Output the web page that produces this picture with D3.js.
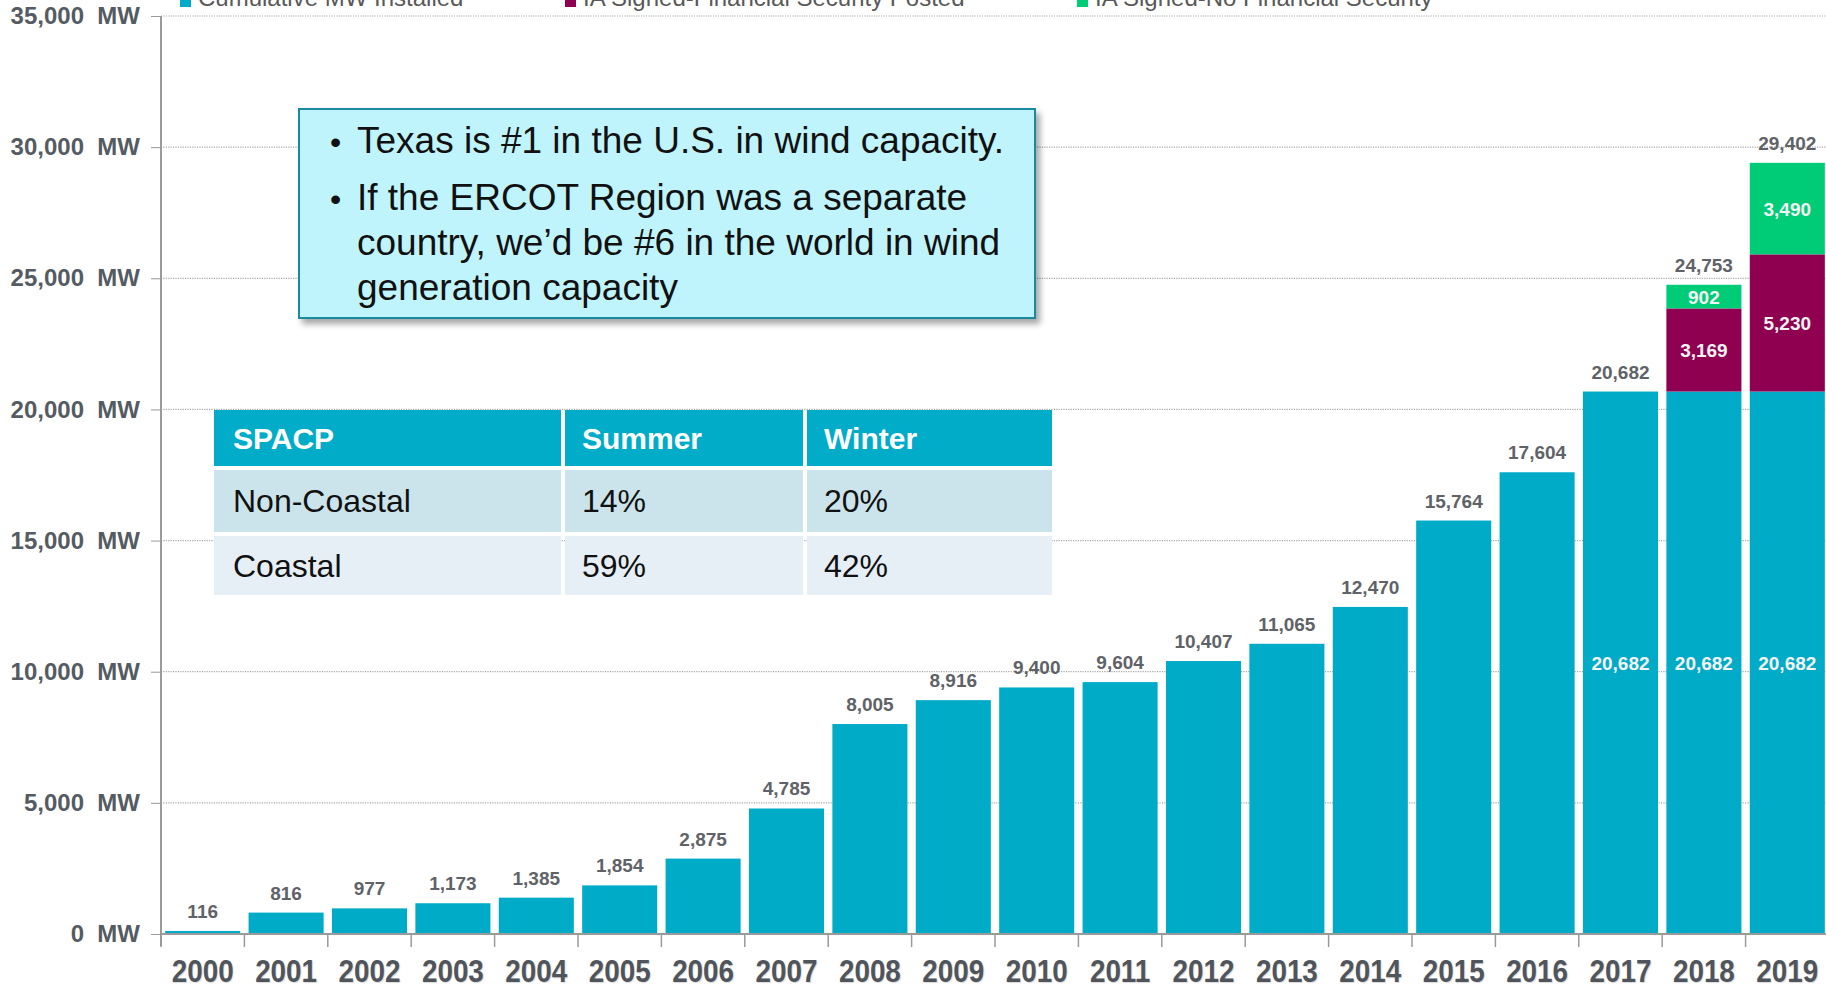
<!DOCTYPE html>
<html>
<head>
<meta charset="utf-8">
<script src="https://cdn.jsdelivr.net/npm/d3@7"></script>
<style>
  body { margin: 0; background: #fff; }
  svg { display: block; font-family: "Liberation Sans", Arial, sans-serif; }
</style>
</head>
<body>
<script>
// Chart data
const years = ["2000","2001","2002","2003","2004","2005","2006","2007","2008","2009",
               "2010","2011","2012","2013","2014","2015","2016","2017","2018","2019"];
const installed = [116, 816, 977, 1173, 1385, 1854, 2875, 4785, 8005, 8916,
                   9400, 9604, 10407, 11065, 12470, 15764, 17604, 20682, 20682, 20682];
const securityPosted = [0,0,0,0,0,0,0,0,0,0,0,0,0,0,0,0,0,0, 3169, 5230];
const noSecurity = [0,0,0,0,0,0,0,0,0,0,0,0,0,0,0,0,0,0, 902, 3490];
const insideLabelYears = ["2017", "2018", "2019"];
const yTicks = [0, 5000, 10000, 15000, 20000, 25000, 30000, 35000];

const seriesKeys = ["installed", "posted", "noSecurity"];
const seriesColors = ["#00abc8", "#8f0050", "#00cc78"];
const legendLabels = ["Cumulative MW Installed", "IA Signed-Financial Security Posted", "IA Signed-No Financial Security"];

const calloutBullets = [
  ["Texas is #1 in the U.S. in wind capacity."],
  ["If the ERCOT Region was a separate", "country, we\u2019d be #6 in the world in wind", "generation capacity"]
];
const tableHeader = ["SPACP", "Summer", "Winter"];
const tableRows = [
  ["Non-Coastal", "14%", "20%"],
  ["Coastal", "59%", "42%"]
];

// Build table for stacking
const rows = years.map((yr, i) => ({
  yr: yr,
  installed: installed[i],
  posted: securityPosted[i],
  noSecurity: noSecurity[i]
}));

const W = 1826, H = 988;
const svg = d3.select("body").append("svg")
  .attr("width", W)
  .attr("height", H);

const defs = svg.append("defs");
const shadow = defs.append("filter").attr("id", "shadow")
  .attr("x", "-5%").attr("y", "-5%").attr("width", "115%").attr("height", "125%");
shadow.append("feDropShadow")
  .attr("dx", 4).attr("dy", 5).attr("stdDeviation", 3)
  .attr("flood-color", "#000").attr("flood-opacity", 0.35);

// Scales
const x = d3.scaleBand()
  .domain(years)
  .range([161, 1829])
  .paddingInner(0.1)
  .paddingOuter(0.05);

const y = d3.scaleLinear()
  .domain([0, 35000])
  .range([934, 16]);

const color = d3.scaleOrdinal().domain(seriesKeys).range(seriesColors);

// Gridlines (dotted)
svg.append("g")
  .selectAll("line")
  .data(yTicks.filter(d => d > 0))
  .enter().append("line")
  .attr("x1", 161).attr("x2", W)
  .attr("y1", d => y(d)).attr("y2", d => y(d))
  .attr("stroke", "#a9a9a9")
  .attr("stroke-width", 1.2)
  .attr("stroke-dasharray", "1.2,1.2");

// Y axis
const yAxis = svg.append("g")
  .attr("transform", "translate(161,0)")
  .call(d3.axisLeft(y).tickValues(yTicks).tickSize(10).tickPadding(11)
    .tickFormat(d => d3.format(",")(d) + "  MW"));
yAxis.select(".domain").remove();
yAxis.selectAll(".tick line").attr("stroke", "#999");
yAxis.selectAll(".tick text")
  .style("white-space", "pre")
  .attr("fill", "#555b62")
  .attr("font-size", 24)
  .attr("font-weight", "bold")
  .attr("font-family", "'Liberation Sans', Arial, sans-serif");

svg.append("line")
  .attr("x1", 161).attr("x2", 161)
  .attr("y1", y(35000)).attr("y2", 946)
  .attr("stroke", "#9a9a9a").attr("stroke-width", 2);

// Stacked bars
const stacked = d3.stack().keys(seriesKeys)(rows);

svg.append("g")
  .selectAll("g")
  .data(stacked)
  .enter().append("g")
  .attr("fill", d => color(d.key))
  .selectAll("rect")
  .data(d => d.filter(s => s[1] - s[0] > 0))
  .enter().append("rect")
  .attr("x", d => x(d.data.yr))
  .attr("width", x.bandwidth())
  .attr("y", d => y(d[1]))
  .attr("height", d => y(d[0]) - y(d[1]));

// Baseline and x ticks at band boundaries
svg.append("line")
  .attr("x1", 161).attr("x2", W)
  .attr("y1", y(0)).attr("y2", y(0))
  .attr("stroke", "#9a9a9a").attr("stroke-width", 2);

svg.append("g")
  .selectAll("line")
  .data(years)
  .enter().append("line")
  .attr("x1", d => x(d) - x.step() * x.paddingInner() / 2)
  .attr("x2", d => x(d) - x.step() * x.paddingInner() / 2)
  .attr("y1", y(0)).attr("y2", y(0) + 13)
  .attr("stroke", "#9a9a9a").attr("stroke-width", 1.5);

// Year labels (condensed)
svg.append("g")
  .selectAll("text")
  .data(years)
  .enter().append("text")
  .attr("transform", d => `translate(${x(d) + x.bandwidth() / 2},982) scale(0.87,1)`)
  .attr("text-anchor", "middle")
  .attr("font-size", 32)
  .attr("font-weight", "bold")
  .attr("fill", "#50555c")
  .style("text-shadow", "1px 1px 1px rgba(0,0,0,0.15)")
  .text(d => d);

// Top labels (totals)
const fmt = d3.format(",");
svg.append("g")
  .selectAll("text")
  .data(rows)
  .enter().append("text")
  .attr("x", d => x(d.yr) + x.bandwidth() / 2)
  .attr("y", d => y(d.installed + d.posted + d.noSecurity) - 13)
  .attr("text-anchor", "middle")
  .attr("font-size", 19)
  .attr("font-weight", "bold")
  .attr("fill", "#5f6368")
  .text(d => fmt(d.installed + d.posted + d.noSecurity));

// Inside segment labels
const insideLabels = [];
stacked.forEach(s => {
  s.forEach(seg => {
    const v = seg[1] - seg[0];
    if (v <= 0) return;
    if (s.key === "installed" && !insideLabelYears.includes(seg.data.yr)) return;
    insideLabels.push({ yr: seg.data.yr, mid: (seg[0] + seg[1]) / 2, v: v });
  });
});

svg.append("g")
  .selectAll("text")
  .data(insideLabels)
  .enter().append("text")
  .attr("x", d => x(d.yr) + x.bandwidth() / 2)
  .attr("y", d => y(d.mid) + 7)
  .attr("text-anchor", "middle")
  .attr("font-size", 19)
  .attr("font-weight", "bold")
  .attr("fill", "#f4f4f4")
  .text(d => fmt(d.v));

// Legend (clipped at top, as in the source)
const legendX = [180, 565, 1077];
const legend = svg.append("g")
  .selectAll("g")
  .data(legendLabels)
  .enter().append("g")
  .attr("transform", (d, i) => `translate(${legendX[i]},0)`);
legend.append("rect")
  .attr("x", 0).attr("y", -4).attr("width", 11).attr("height", 11)
  .attr("fill", (d, i) => seriesColors[i]);
legend.append("text")
  .attr("x", 18).attr("y", 6)
  .attr("font-size", 24)
  .attr("fill", "#595959")
  .text(d => d);

// Callout box
const callout = svg.append("g");
callout.append("rect")
  .attr("x", 299).attr("y", 109).attr("width", 736).attr("height", 209)
  .attr("fill", "#c0f4fc")
  .attr("stroke", "#1b8a9e")
  .attr("stroke-width", 2)
  .attr("filter", "url(#shadow)");

let lineY = 153;
calloutBullets.forEach((b, bi) => {
  callout.append("text")
    .attr("x", 330).attr("y", lineY)
    .attr("font-size", 32)
    .attr("fill", "#111")
    .text("\u2022");
  b.forEach((ln, li) => {
    callout.append("text")
      .attr("x", 357).attr("y", lineY)
      .attr("font-size", 37)
      .attr("fill", "#111")
      .text(ln);
    lineY += (li < b.length - 1) ? 45 : 0;
  });
  lineY += 57;
});

// SPACP table
const colX = [214, 565, 807, 1052];
const rowY = [410, 470, 536];
const rowH = [56, 62, 59];
const rowFill = ["#00acc8", "#cbe4eb", "#e6eff5"];
const tableData = [tableHeader].concat(tableRows);

const table = svg.append("g");
tableData.forEach((r, ri) => {
  r.forEach((cell, ci) => {
    table.append("rect")
      .attr("x", colX[ci])
      .attr("y", rowY[ri])
      .attr("width", colX[ci + 1] - colX[ci] - (ci < 2 ? 4 : 0))
      .attr("height", rowH[ri])
      .attr("fill", rowFill[ri]);
    table.append("text")
      .attr("x", colX[ci] + (ci === 0 ? 19 : 17))
      .attr("y", rowY[ri] + rowH[ri] / 2 + 11)
      .attr("font-size", ri === 0 ? 30 : 32)
      .attr("font-weight", ri === 0 ? "bold" : "normal")
      .attr("fill", ri === 0 ? "#fff" : "#111")
      .text(cell);
  });
});
</script>
</body>
</html>
